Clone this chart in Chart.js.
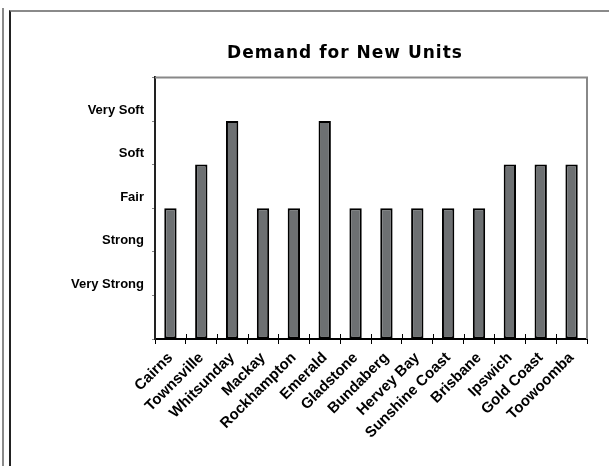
<!DOCTYPE html>
<html>
<head>
<meta charset="utf-8">
<script src="https://cdn.jsdelivr.net/npm/chart.js@4.4.1/dist/chart.umd.min.js"></script>
<style>
  html, body { margin: 0; padding: 0; background: #ffffff; }
  #wrap { position: relative; width: 609px; height: 466px; overflow: hidden; background: #fff; }
  #lineA { position: absolute; left: 2px; top: 8px; width: 2px; height: 470px; background: #8a8a8a; }
  #frame { position: absolute; left: 9px; top: 10px; width: 640px; height: 500px;
           border-left: 2px solid #222; border-top: 2px solid #8a8a8a; box-sizing: border-box; }
  canvas { position: absolute; left: 0; top: 0; }
</style>
</head>
<body>
<div id="wrap">
  <div id="lineA"></div>
  <div id="frame"></div>
  <canvas id="c" width="609" height="466"></canvas>
</div>
<script>
// ---- data ----
const categories = ['Cairns', 'Townsville', 'Whitsunday', 'Mackay', 'Rockhampton', 'Emerald',
  'Gladstone', 'Bundaberg', 'Hervey Bay', 'Sunshine Coast', 'Brisbane', 'Ipswich', 'Gold Coast', 'Toowoomba'];
const demandLevel = [3, 4, 5, 3, 3, 5, 3, 3, 3, 3, 3, 4, 4, 4];
const levelLabels = ['', 'Very Strong', 'Strong', 'Fair', 'Soft', 'Very Soft', ''];
const chartTitle = 'Demand for New Units';

// gray frame on top/right of the plot area + upward half of x category ticks
const plotFrame = {
  id: 'plotFrame',
  beforeDatasetsDraw(chart) {
    const a = chart.chartArea, ctx = chart.ctx, xs = chart.scales.x;
    ctx.save();
    ctx.strokeStyle = '#888888';
    ctx.lineWidth = 2;
    ctx.beginPath();
    ctx.moveTo(a.left, a.top);
    ctx.lineTo(a.right, a.top);
    ctx.lineTo(a.right, a.bottom);
    ctx.stroke();
    ctx.strokeStyle = '#000';
    ctx.lineWidth = 1;
    ctx.beginPath();
    for (let i = 1; i < categories.length; i++) {
      const x = Math.round((xs.getPixelForValue(i - 1) + xs.getPixelForValue(i)) / 2) + 0.5;
      ctx.moveTo(x, a.bottom);
      ctx.lineTo(x, a.bottom - 5);
    }
    ctx.stroke();
    ctx.restore();
  },
  afterLayout(chart) {
    const tb = chart.titleBlock;
    if (!tb) return;
    // centre the title over the region that starts at the left of the y labels
    tb.left = chart.chartArea.left - 52;
    if (!tb._spaced) {
      const orig = tb.draw.bind(tb);
      tb.draw = function () {
        const ctx = this.ctx;
        ctx.save();
        ctx.letterSpacing = '1px';
        orig();
        ctx.restore();
      };
      tb._spaced = true;
    }
  }
};

new Chart(document.getElementById('c'), {
  type: 'bar',
  data: {
    labels: categories,
    datasets: [{
      data: demandLevel,
      backgroundColor: '#6d7072',
      borderColor: '#000000',
      borderWidth: 2,
      borderSkipped: false,
      barPercentage: 0.4,
      categoryPercentage: 1.0
    }]
  },
  options: {
    responsive: false,
    animation: false,
    layout: { padding: { top: 43, right: 22, bottom: 0, left: 0 } },
    plugins: {
      legend: { display: false },
      tooltip: { enabled: false },
      title: {
        display: true,
        text: chartTitle,
        color: '#000',
        font: { family: 'DejaVu Sans', size: 17, weight: 'bold', lineHeight: 1.2 },
        padding: { top: 0, bottom: 14 }
      }
    },
    scales: {
      x: {
        offset: true,
        grid: { offset: true, drawOnChartArea: false, color: '#000', tickLength: 5, lineWidth: 1 },
        border: { color: '#000', width: 2 },
        ticks: {
          color: '#000', maxRotation: 45, minRotation: 45, autoSkip: false, padding: 5,
          font: { family: 'Liberation Sans', size: 15, weight: 'bold' }
        },
        afterFit(s) { s.height = 127; s.paddingLeft = 0; s.paddingRight = 0; }
      },
      y: {
        min: 0, max: 6,
        ticks: {
          stepSize: 1, color: '#000', padding: 8, labelOffset: -11,
          font: { family: 'Liberation Sans', size: 13, weight: 'bold' },
          callback: (v) => levelLabels[v] || ''
        },
        grid: { drawOnChartArea: false, color: '#888', tickLength: 3 },
        border: { color: '#222', width: 2 },
        afterFit(s) { s.width = 155; s.paddingTop = 0; s.paddingBottom = 0; }
      }
    }
  },
  plugins: [plotFrame]
});
</script>
</body>
</html>
